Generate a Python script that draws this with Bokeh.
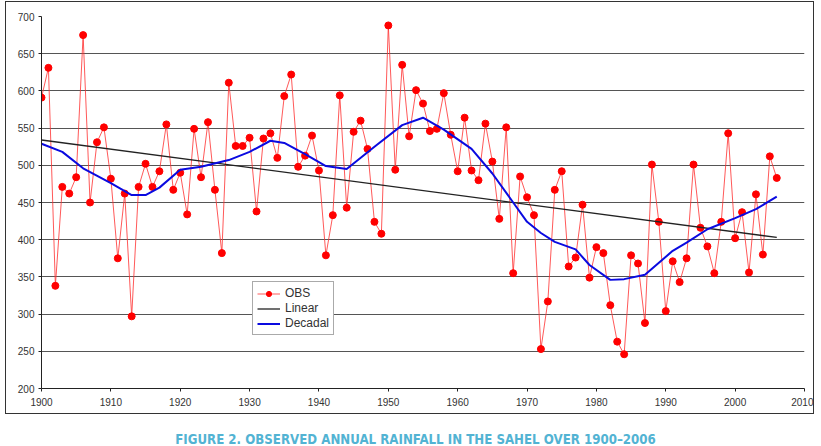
from bokeh.plotting import figure
from bokeh.models import Range1d, Legend, LegendItem, FixedTicker, Div, Column
from bokeh.embed import file_html
from bokeh.resources import INLINE

# Annual Sahel rainfall observations (mm), 1900-2006
years = list(range(1900, 2007))
obs = [
    591, 631, 338, 471, 462, 484, 675, 450, 531, 551,
    482, 375, 462, 297, 471, 502, 471, 492, 555, 467,
    490, 434, 549, 484, 558, 467, 382, 611, 526, 526,
    537, 438, 536, 543, 510, 593, 622, 498, 513, 540,
    493, 379, 433, 594, 443, 545, 560, 522, 424, 408,
    688, 494, 635, 539, 601, 583, 546, 549, 597, 541,
    492, 564, 493, 480, 556, 505, 428, 551, 355, 485,
    457, 433, 253, 317, 467, 492, 364, 376, 447, 349,
    390, 382, 312, 263, 246, 379, 368, 288, 501, 424,
    304, 371, 343, 375, 501, 416, 391, 355, 424, 543,
    402, 437, 356, 461, 380, 512, 483,
]

# Linear trend end points
trend_years = [1900, 2006]
trend_vals = [534, 403]

# Decadal smoothed curve
decadal_years = [1900, 1903, 1906, 1910, 1913, 1915, 1917, 1920, 1923, 1927,
                 1930, 1933, 1935, 1938, 1941, 1944, 1948, 1952, 1955, 1958,
                 1962, 1965, 1968, 1970, 1972, 1974, 1977, 1979, 1982, 1984,
                 1987, 1991, 1993, 1996, 2000, 2003, 2006]
decadal_vals = [529, 518, 496, 476, 460, 460, 470, 494, 498, 507,
                518, 533, 530, 515, 499, 495, 525, 554, 564, 548,
                522, 489, 450, 424, 409, 397, 387, 366, 346, 347,
                353, 385, 396, 414, 429, 441, 458]

x_ticks = list(range(1900, 2011, 10))
y_ticks = list(range(200, 701, 50))
caption = "FIGURE 2. OBSERVED ANNUAL RAINFALL IN THE SAHEL OVER 1900\u20132006"

FONT = "Liberation Sans"

p = figure(width=809, height=413, output_backend="svg", toolbar_location=None,
           x_range=Range1d(1900, 2010), y_range=Range1d(200, 700),
           min_border_left=35, min_border_right=11,
           min_border_top=14, min_border_bottom=27)
p.outline_line_color = None
p.background_fill_color = "white"
p.border_fill_color = "white"
p.styles = {"border": "1.5px solid #333333", "margin-left": "5px", "margin-top": "1px"}

p.xgrid.visible = False
p.ygrid.grid_line_color = "#555555"
p.ygrid.grid_line_width = 1
p.ygrid.ticker = FixedTicker(ticks=y_ticks)

p.xaxis.ticker = FixedTicker(ticks=x_ticks)
p.yaxis.ticker = FixedTicker(ticks=y_ticks)
for ax in (p.xaxis[0], p.yaxis[0]):
    ax.axis_line_color = "#222222"
    ax.axis_line_width = 1
    ax.major_tick_line_color = "#222222"
    ax.major_tick_in = 0
    ax.major_tick_out = 3
    ax.minor_tick_line_color = None
    ax.major_label_text_font = FONT
    ax.major_label_text_font_size = "10px"
    ax.major_label_text_color = "#333333"
p.xaxis.major_label_standoff = 6
p.yaxis.major_label_standoff = 4

obs_line = p.line(years, obs, line_color="#ff3030", line_width=1, line_alpha=0.8)
obs_pts = p.scatter(years, obs, size=7, fill_color="#ff0000", line_color="#ff0000")
trend = p.line(trend_years, trend_vals, line_color="#222222", line_width=1.3)
dec = p.line(decadal_years, decadal_vals, line_color="#0a0ae0", line_width=2)

legend = Legend(items=[
    LegendItem(label="OBS", renderers=[obs_line, obs_pts]),
    LegendItem(label="Linear", renderers=[trend]),
    LegendItem(label="Decadal", renderers=[dec]),
], location=(211, 53))
legend.border_line_color = "#555555"
legend.border_line_width = 1
legend.background_fill_color = "white"
legend.background_fill_alpha = 1
legend.label_text_font = FONT
legend.label_text_font_size = "12px"
legend.label_text_color = "#333333"
legend.glyph_width = 23
legend.glyph_height = 13
legend.label_height = 13
legend.label_standoff = 5
legend.padding = 4
legend.spacing = 1
legend.margin = 0
p.add_layout(legend)

title_div = Div(text=caption, width=821, height=12,
                styles={"text-align": "center", "color": "#52b3d3",
                        "font-family": "'Liberation Sans Narrow', 'DejaVu Sans Condensed', sans-serif",
                        "font-weight": "bold", "font-size": "14px",
                        "line-height": "12px", "position": "relative", "top": "14px",
                        "transform": "scaleX(0.94)", "white-space": "nowrap"})

root = Column(children=[p, title_div], spacing=0)
open("out.html", "w").write(file_html(root, INLINE))
